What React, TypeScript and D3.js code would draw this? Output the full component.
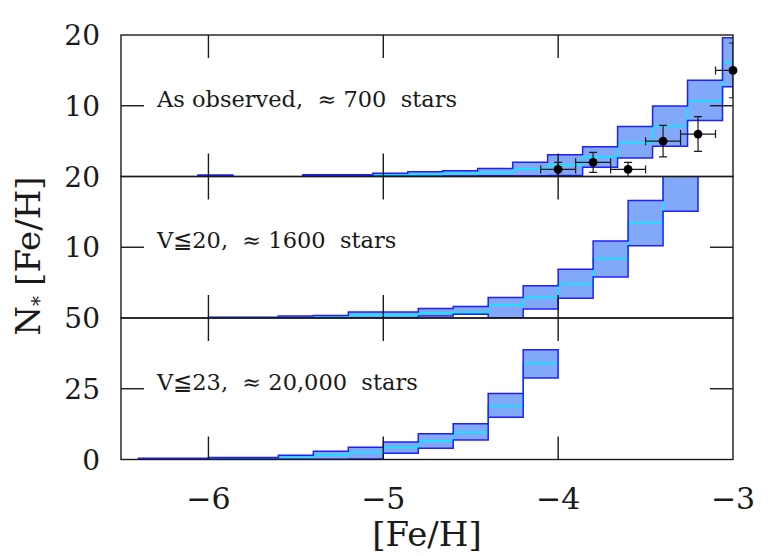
import * as d3 from "d3";

// bin width in [Fe/H]
const BIN = 0.2;

// top panel: as observed (left edges of bins, then lower / median / upper counts)
const obsLeft = [-6.06, -5.46, -5.26, -5.06, -4.86, -4.66, -4.46, -4.26, -4.06, -3.86, -3.66, -3.46, -3.26, -3.06];
const obsLo = [0.05, 0.05, 0.05, 0.05, 0.05, 0.08, 0.1, 0.12, 0.14, 1.32, 2.6, 4.26, 7.9, 12.7];
const obsMid = [0.1, 0.12, 0.12, 0.2, 0.33, 0.43, 0.55, 1.09, 1.66, 2.74, 4.8, 7.13, 10.7, 16.1];
const obsHi = [0.2, 0.24, 0.24, 0.47, 0.66, 0.8, 1.13, 2.03, 3.08, 4.2, 7.05, 9.97, 13.6, 19.6];

// middle panel: V <= 20
const v20Left = [-6.0, -5.8, -5.6, -5.4, -5.2, -5.0, -4.8, -4.6, -4.4, -4.2, -4.0, -3.8, -3.6, -3.4];
const v20Lo = [0.02, 0.02, 0.03, 0.04, 0.05, 0.05, 0.3, 0.52, 0.05, 1.27, 2.8, 5.8, 10.2, 15.1];
const v20Mid = [0.06, 0.06, 0.12, 0.15, 0.38, 0.4, 0.66, 0.8, 1.8, 2.9, 4.8, 8.4, 13.5, 21.5];
const v20Hi = [0.1, 0.1, 0.28, 0.37, 0.85, 0.85, 1.36, 1.64, 2.9, 4.55, 6.9, 10.9, 16.6, 28];

// bottom panel: V <= 23
const v23Left = [-6.4, -6.2, -6.0, -5.8, -5.6, -5.4, -5.2, -5.0, -4.8, -4.6, -4.4, -4.2];
const v23Lo = [0.1, 0.1, 0.1, 0.1, 0.1, 0.1, 0.2, 2.2, 4.0, 6.9, 14.9, 28.8];
const v23Mid = [0.25, 0.25, 0.35, 0.35, 0.6, 1.6, 2.6, 4.2, 6.5, 9.6, 18.9, 33.9];
const v23Hi = [0.4, 0.4, 0.7, 0.7, 1.5, 2.9, 4.3, 6.2, 9.1, 12.6, 23.3, 38.8];

// observed stars with error bars (top panel)
const starFeH = [-4.0, -3.8, -3.6, -3.4, -3.2, -3.0];
const starN = [1, 2, 1, 5, 6, 15];
const starNLow = [0, 0.59, 0, 2.76, 3.55, 11.13];
const starNHigh = [2, 3.41, 2, 7.24, 8.45, 18.87];
const starFeHErr = 0.1;

const xTicks = [-6, -5, -4, -3];
const panelMax = [20, 20, 50];
const panelMidTick = [10, 10, 25];
const panelLabels = [[20, 10], [20, 10], [50, 25, 0]];
const panelTitles = ["As observed,  \u2248 700  stars", "V\u226620,  \u2248 1600  stars", "V\u226623,  \u2248 20,000  stars"];

const W = 772;
const H = 556;
const left = 121;
const right = 733;
const top = 35;
const panelH = 141.5;
const font = "'DejaVu Serif', 'Liberation Serif', serif";
const ink = "#1a1a1a";

type Bin = { x0: number; lo: number; mid: number; hi: number };

function runsOf(lefts: number[], lo: number[], mid: number[], hi: number[]) {
  // split into contiguous runs, add a closing point at the right edge
  const runs: Bin[][] = [];
  let cur: Bin[] = [];
  lefts.forEach((x0, i) => {
    if (cur.length && x0 - cur[cur.length - 1].x0 > BIN + 1e-6) {
      const last = cur[cur.length - 1];
      cur.push({ ...last, x0: last.x0 + BIN });
      runs.push(cur);
      cur = [];
    }
    cur.push({ x0, lo: lo[i], mid: mid[i], hi: hi[i] });
  });
  const last = cur[cur.length - 1];
  cur.push({ ...last, x0: last.x0 + BIN });
  runs.push(cur);
  return runs;
}

const panelData = [
  runsOf(obsLeft, obsLo, obsMid, obsHi),
  runsOf(v20Left, v20Lo, v20Mid, v20Hi),
  runsOf(v23Left, v23Lo, v23Mid, v23Hi),
];

export default function App() {
  const x = d3.scaleLinear().domain([-6.5, -3]).range([left, right]);
  const ys = panelMax.map((m, i) =>
    d3.scaleLinear().domain([0, m]).range([top + (i + 1) * panelH, top + i * panelH])
  );

  const tickLen = 23;

  return (
    <svg
      width={W}
      height={H}
      style={{ position: "absolute", left: 0, top: 0, background: "#fff" }}
      fontFamily={font}
    >
      <defs>
        {ys.map((_, i) => (
          <clipPath id={`clip${i}`} key={i}>
            <rect x={left} y={top + i * panelH} width={right - left} height={panelH} />
          </clipPath>
        ))}
      </defs>

      {panelData.map((runs, i) => {
        const y = ys[i];
        const area = d3
          .area<Bin>()
          .x((d) => x(d.x0))
          .y0((d) => y(d.lo))
          .y1((d) => y(d.hi))
          .curve(d3.curveStepAfter);
        const mid = d3
          .line<Bin>()
          .x((d) => x(d.x0))
          .y((d) => y(d.mid))
          .curve(d3.curveStepAfter);
        return (
          <g key={i} clipPath={`url(#clip${i})`}>
            {runs.map((r, j) => (
              <path key={"f" + j} d={area(r) || ""} fill="#82a9f9" stroke="none" />
            ))}
            {runs.map((r, j) => (
              <path key={"m" + j} d={mid(r) || ""} fill="none" stroke="#00f0ff" strokeWidth={1.5} />
            ))}
            {runs.map((r, j) => (
              <path key={"o" + j} d={area(r) || ""} fill="none" stroke="#1f1fff" strokeWidth={1.5} />
            ))}
          </g>
        );
      })}

      {/* frames and ticks */}
      {ys.map((y, i) => {
        const y0 = top + i * panelH;
        const y1 = y0 + panelH;
        const mt = y(panelMidTick[i]);
        return (
          <g key={"ax" + i} stroke={ink} strokeWidth={1.4}>
            <rect x={left} y={y0} width={right - left} height={panelH} fill="none" />
            {xTicks.slice(0, 3).map((t) => (
              <g key={t}>
                <line x1={x(t)} x2={x(t)} y1={y0} y2={y0 + tickLen} />
                <line x1={x(t)} x2={x(t)} y1={y1} y2={y1 - tickLen} />
              </g>
            ))}
            <line x1={left} x2={left + tickLen} y1={mt} y2={mt} />
            <line x1={right} x2={right - tickLen} y1={mt} y2={mt} />
          </g>
        );
      })}

      {/* observed stars */}
      <g clipPath="url(#clip0)" stroke={ink} strokeWidth={1.2}>
        {starFeH.map((f, i) => {
          const y = ys[0];
          const cx = x(f);
          const cy = y(starN[i]);
          const xl = x(f - starFeHErr);
          const xr = x(f + starFeHErr);
          const yl = y(starNLow[i]);
          const yh = y(starNHigh[i]);
          return (
            <g key={i}>
              <line x1={xl} x2={xr} y1={cy} y2={cy} />
              <line x1={xl} x2={xl} y1={cy - 4} y2={cy + 4} />
              <line x1={xr} x2={xr} y1={cy - 4} y2={cy + 4} />
              <line x1={cx} x2={cx} y1={yl} y2={yh} />
              <line x1={cx - 4} x2={cx + 4} y1={yl} y2={yl} />
              <line x1={cx - 4} x2={cx + 4} y1={yh} y2={yh} />
            </g>
          );
        })}
      </g>
      {starFeH.map((f, i) => (
        <circle key={"c" + i} cx={x(f)} cy={ys[0](starN[i])} r={4.4} fill="#000" />
      ))}

      {/* panel annotations */}
      {panelTitles.map((t, i) => (
        <text
          key={"t" + i}
          x={157}
          y={ys[i](panelMidTick[i]) + 1}
          fontSize={22.5}
          fill={ink}
          style={{ whiteSpace: "pre" }}
        >
          {t}
        </text>
      ))}

      {/* y tick labels */}
      {panelLabels.map((labs, i) =>
        labs.map((v) => (
          <text
            key={`yl${i}-${v}`}
            x={100}
            y={ys[i](v)}
            dy="0.36em"
            textAnchor="end"
            fontSize={28}
            fill={ink}
          >
            {v}
          </text>
        ))
      )}

      {/* x tick labels */}
      {xTicks.map((t) => (
        <text key={"xl" + t} x={x(t)} y={509} textAnchor="middle" fontSize={30} fill={ink}>
          {"\u2212" + Math.abs(t)}
        </text>
      ))}

      <text x={427} y={546} textAnchor="middle" fontSize={34} fill={ink}>
        [Fe/H]
      </text>
      <text transform="translate(40,256) rotate(-90)" textAnchor="middle" fontSize={34} fill={ink}>
        <tspan>N</tspan>
        <tspan fontSize={20} dy={6}>*</tspan>
        <tspan dy={-6} dx={10}>[Fe/H]</tspan>
      </text>
    </svg>
  );
}
